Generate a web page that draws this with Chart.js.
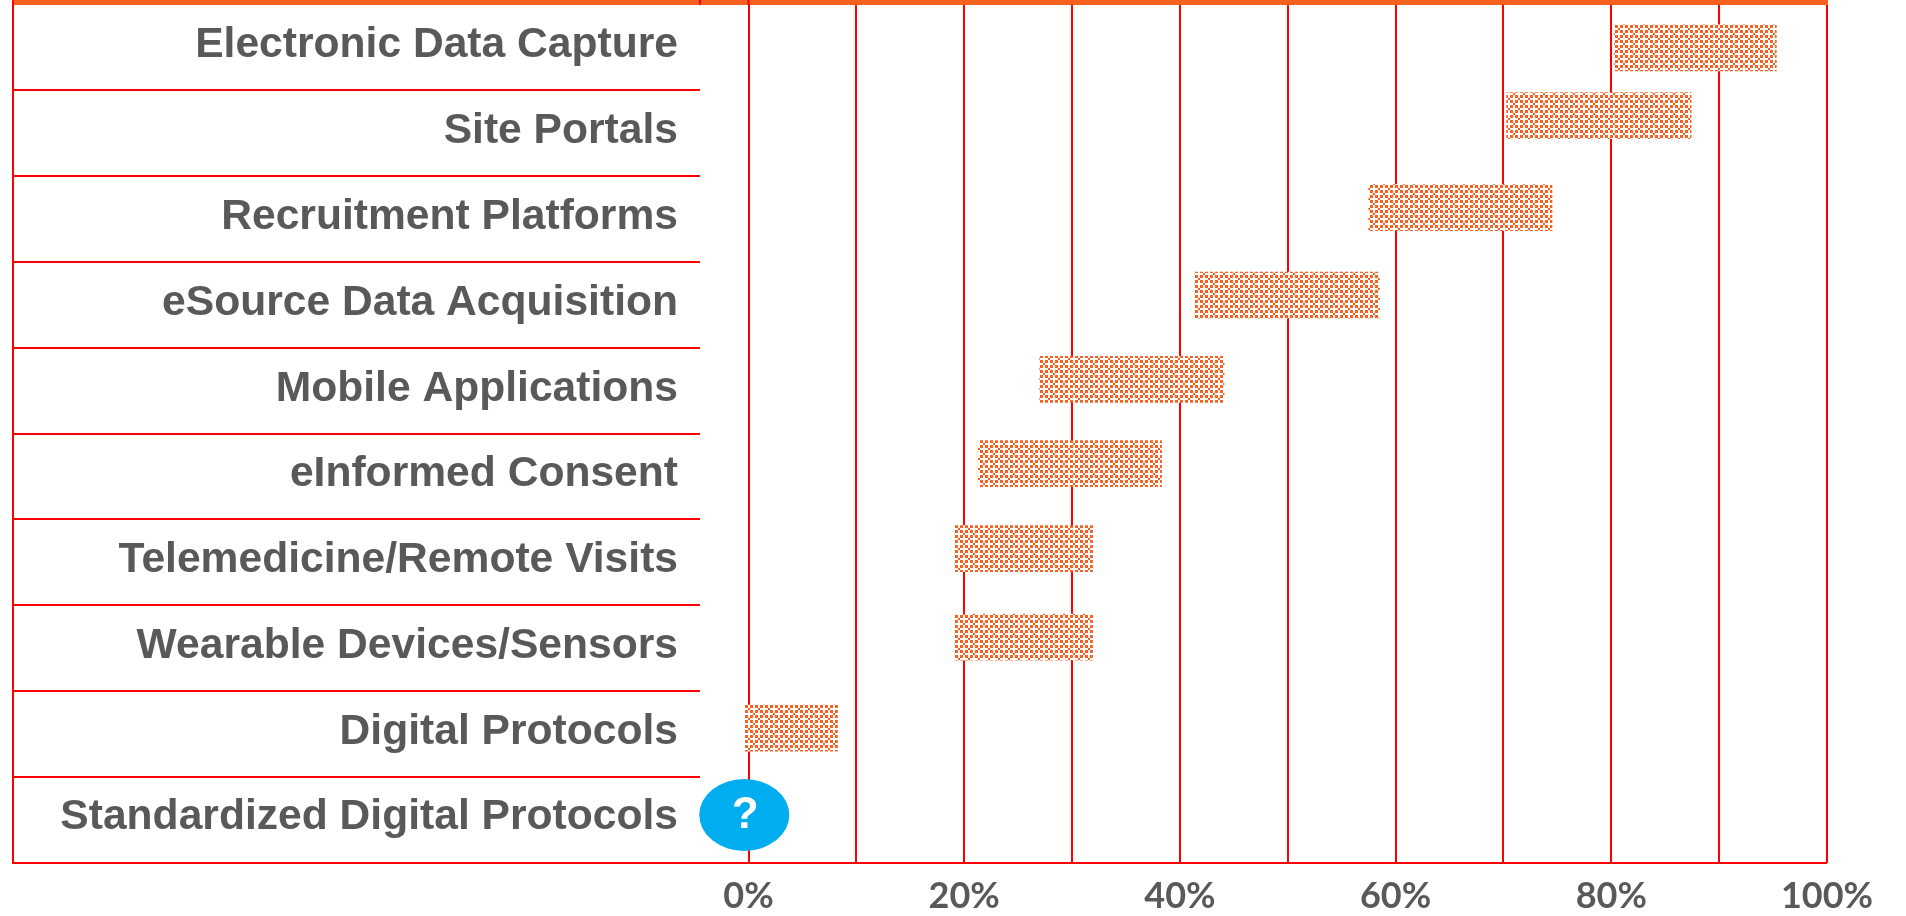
<!DOCTYPE html>
<html>
<head>
<meta charset="utf-8">
<title>Digital technology adoption</title>
<script src="https://cdn.jsdelivr.net/npm/chart.js@4/dist/chart.umd.min.js"></script>
<style>
  html, body { margin: 0; padding: 0; background: #fff; overflow: hidden; }
  canvas { display: block; }
</style>
</head>
<body>
<canvas id="chart" width="1906" height="916"></canvas>
<script>
// Values
const categories = [
  'Electronic Data Capture', 'Site Portals', 'Recruitment Platforms',
  'eSource Data Acquisition', 'Mobile Applications', 'eInformed Consent',
  'Telemedicine/Remote Visits', 'Wearable Devices/Sensors', 'Digital Protocols',
  'Standardized Digital Protocols'
];
const rangeStart = [80.3, 70.3, 57.5, 41.4, 27.0, 21.3, 19.15, 19.15, -0.3];
const rangeEnd = [95.3, 87.4, 74.5, 58.5, 44.1, 38.3, 31.9, 31.9, 8.25];
// bars do not sit quite in the middle of their rows
const barRows = [0.51, 1.30, 2.37, 3.39, 4.37, 5.35, 6.34, 7.37, 8.43];
const labelRows = [0.48, 1.48, 2.48, 3.48, 4.48, 5.48, 6.48, 7.48, 8.48, 9.47];
const unknownX = -0.3;
const unknownRow = 9.44;
const xTicks = [0, 10, 20, 30, 40, 50, 60, 70, 80, 90, 100];
const xLabelled = ['0%', '20%', '40%', '60%', '80%', '100%'];

const RED = '#ff0000';
const ORANGE = '#f7601e';

// Dither used for the bars: small x shapes on a 10px repeat
function makePattern() {
  const cells = [
    [1, 0, 1, 0],
    [0, 1, 0, 0],
    [1, 0, 1, 0],
    [0, 0, 0, 1]
  ];
  const edge = [0, 3, 5, 8, 10];
  const c = document.createElement('canvas');
  c.width = 10;
  c.height = 10;
  const g = c.getContext('2d');
  g.fillStyle = '#fff';
  g.fillRect(0, 0, 10, 10);
  g.fillStyle = ORANGE;
  for (let r = 0; r < 4; r++) {
    for (let q = 0; q < 4; q++) {
      if (cells[r][q]) {
        g.fillRect(edge[q], edge[r], edge[q + 1] - edge[q], edge[r + 1] - edge[r]);
      }
    }
  }
  return g.createPattern(c, 'repeat');
}

// Frame, row lines, top band and the "?" badge
const framePlugin = {
  id: 'frame',
  beforeDatasetsDraw(chart) {
    const { ctx, chartArea, scales } = chart;
    const left = scales.y.left;
    const labelEdge = scales.x.getPixelForValue(-4.5);
    ctx.save();
    ctx.strokeStyle = RED;
    ctx.lineWidth = 2;
    for (let i = 1; i < categories.length; i++) {
      const y = Math.round(scales.y.getPixelForValue(i));
      ctx.beginPath();
      ctx.moveTo(left, y);
      ctx.lineTo(labelEdge, y);
      ctx.stroke();
    }
    ctx.beginPath();
    ctx.moveTo(left, 0);
    ctx.lineTo(left, chartArea.bottom);
    ctx.lineTo(chartArea.right, chartArea.bottom);
    ctx.stroke();
    ctx.fillStyle = ORANGE;
    ctx.fillRect(left + 1, 0, chartArea.right - left, 5);
    ctx.fillStyle = RED;
    ctx.fillRect(labelEdge - 1, 0, 2, 5);
    ctx.fillRect(chartArea.left - 1, 0, 2, 5);
    ctx.restore();
  },
  afterDatasetsDraw(chart) {
    const { ctx, scales } = chart;
    const cx = scales.x.getPixelForValue(unknownX);
    const cy = scales.y.getPixelForValue(unknownRow);
    ctx.save();
    ctx.fillStyle = '#00aeef';
    ctx.beginPath();
    ctx.ellipse(cx - 1, cy, 45, 36, 0, 0, Math.PI * 2);
    ctx.fill();
    ctx.fillStyle = '#fff';
    ctx.font = 'bold 44px "Liberation Sans"';
    ctx.textAlign = 'center';
    ctx.textBaseline = 'middle';
    ctx.fillText('?', cx, cy + 1);
    ctx.restore();
  }
};

new Chart(document.getElementById('chart'), {
  type: 'bar',
  data: {
    datasets: [{
      data: rangeStart.map((s, i) => ({ x: [s, rangeEnd[i]], y: barRows[i] })),
      backgroundColor: makePattern(),
      borderWidth: 0,
      barThickness: 46,
      clip: false
    }]
  },
  options: {
    indexAxis: 'y',
    responsive: false,
    animation: false,
    layout: { padding: { top: 4, right: 79, left: 13, bottom: 0 } },
    plugins: { legend: { display: false }, tooltip: { enabled: false } },
    scales: {
      x: {
        type: 'linear',
        min: 0,
        max: 100,
        afterFit: s => {
          s.height = 53;
          s.paddingLeft = 0;
          s.paddingRight = 0;
        },
        afterBuildTicks: s => { s.ticks = xTicks.map(v => ({ value: v })); },
        grid: { color: RED, lineWidth: 2, drawTicks: false },
        border: { display: false },
        ticks: {
          autoSkip: false,
          maxRotation: 0,
          padding: 12,
          color: '#595959',
          font: { family: 'Lato', weight: 'bold', size: 36 },
          callback: v => xLabelled.includes(v + '%') ? v + '%' : ''
        }
      },
      y: {
        type: 'linear',
        reverse: true,
        offset: false,
        min: 0,
        max: 10,
        afterFit: s => {
          s.width = 735.5;
          s.paddingTop = 0;
          s.paddingBottom = 0;
        },
        afterBuildTicks: s => { s.ticks = labelRows.map((v, i) => ({ value: v, label: categories[i] })); },
        grid: { display: false },
        border: { display: false },
        ticks: {
          autoSkip: false,
          padding: 62.5,
          color: '#595959',
          font: { family: '"Liberation Sans", Arial', weight: 'bold', size: 42.6 },
          callback: (v, i) => categories[i]
        }
      }
    }
  },
  plugins: [framePlugin]
});
</script>
</body>
</html>
